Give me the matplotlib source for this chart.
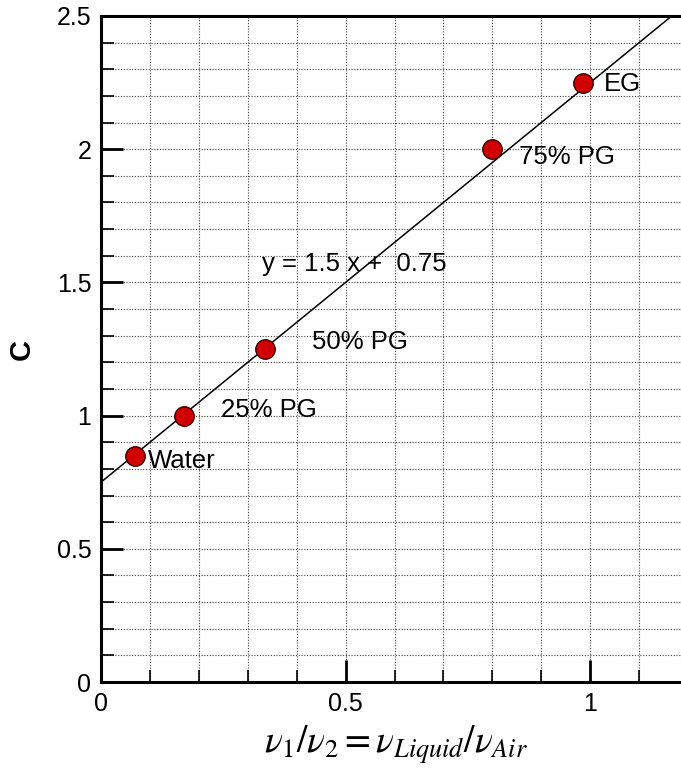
import numpy as np
import matplotlib
matplotlib.use("Agg")
import matplotlib.pyplot as plt
from matplotlib.ticker import MultipleLocator

# fluid data
fluids = ["Water", "25% PG", "50% PG", "75% PG", "EG"]
visc_ratio = [0.07, 0.17, 0.335, 0.80, 0.985]
c_values = [0.85, 1.00, 1.25, 2.00, 2.25]
label_x = [0.096, 0.245, 0.431, 0.855, 1.029]
label_y = [0.83, 1.02, 1.275, 1.97, 2.245]

xticks = [0, 0.5, 1]
xtick_labels = ["0", "0.5", "1"]
yticks = [0, 0.5, 1, 1.5, 2, 2.5]
ytick_labels = ["0", "0.5", "1", "1.5", "2", "2.5"]

slope = 1.5
intercept = 0.75

plt.rcParams['font.family'] = ['Liberation Sans', 'DejaVu Sans']
plt.rcParams['mathtext.fontset'] = 'stix'

fig = plt.figure(figsize=(6.81, 7.69), dpi=100)
ax = fig.add_axes([101 / 681, 1 - 682 / 769, 587 / 681, 666 / 769])

xfit = np.linspace(0, (2.5 - intercept) / slope, 50)
ax.plot(xfit, slope * xfit + intercept, color='black', lw=1.1, zorder=3)
ax.plot(visc_ratio, c_values, 'o', ms=14, mfc='#d00000', mec='#3a0000',
        mew=1.0, zorder=4)

for name, lx, ly in zip(fluids, label_x, label_y):
    ax.text(lx, ly, name, fontsize=18.5, va='center', ha='left', zorder=5)

ax.text(0.329, 1.57, "y = 1.5 x +  0.75", fontsize=18.5, va='center',
        ha='left', zorder=5)

ax.set_xlim(0, 1.2)
ax.set_ylim(0, 2.5)
ax.xaxis.set_minor_locator(MultipleLocator(0.1))
ax.yaxis.set_minor_locator(MultipleLocator(0.1))
ax.set_xticks(xticks)
ax.set_xticklabels(xtick_labels, fontsize=18)
ax.set_yticks(yticks)
ax.set_yticklabels(ytick_labels, fontsize=18)

ax.grid(which='both', linestyle=(0, (1, 1.5)), color='#444444', lw=0.8)
ax.set_axisbelow(True)

ax.tick_params(which='major', direction='in', length=16, width=2)
ax.tick_params(axis='y', which='major', pad=7)
ax.tick_params(axis='x', which='major', pad=7)
ax.tick_params(which='minor', direction='in', length=9, width=1.2)
ax.tick_params(top=False, right=False, which='both')

for side in ['left', 'bottom', 'top']:
    ax.spines[side].set_linewidth(2.2)
ax.spines['right'].set_visible(False)

ax.set_ylabel("C", fontsize=21, fontweight='bold', va='center')
ax.yaxis.set_label_coords(-(101 - 22) / 587, (682 - 350) / 666)
ax.set_xlabel(r"$\nu_1/\nu_2 = \nu_{Liquid}/\nu_{Air}$", fontsize=27,
              va='center')
ax.xaxis.set_label_coords((396 - 101) / 587, -(745 - 682) / 666)

fig.savefig("out.png", dpi=100)
